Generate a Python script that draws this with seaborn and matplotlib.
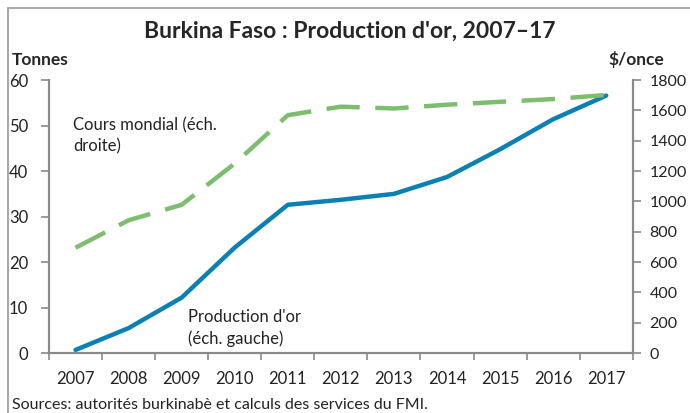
import numpy as np
import pandas as pd
import matplotlib
matplotlib.use("Agg")
import matplotlib.pyplot as plt
from matplotlib.lines import Line2D
import seaborn as sns

years = ["2007", "2008", "2009", "2010", "2011", "2012", "2013", "2014", "2015", "2016", "2017"]
#Gold production, tonnes (left scale)
production = [0.7, 5.5, 12.2, 23.2, 32.6, 33.7, 35.0, 38.7, 44.8, 51.4, 56.6]
#World gold price, $/ounce (right scale)
gold_price = [695, 876, 978, 1250, 1569, 1625, 1613, 1638, 1657, 1675, 1702]

df = pd.DataFrame({"Year": years, "Production": production, "Price": gold_price})
df["pos"] = np.arange(len(years))

sns.set_style("white")
plt.rcParams["font.family"] = ["Lato", "DejaVu Sans"]

blue = "#0A80B4"
green = "#7DBD6E"
spine_gray = "#8A8A8A"

fig = plt.figure(figsize=(6.9, 4.13), dpi=100)
ax = fig.add_axes([0.071, 0.145, 0.846, 0.661])
ax2 = ax.twinx()

sns.lineplot(data=df, x="pos", y="Production", ax=ax, color=blue, linewidth=3.2)
sns.lineplot(data=df, x="pos", y="Price", ax=ax2, color=green, linewidth=3.2)
ax2.lines[0].set_dashes((7.5, 3.5))

ax.set_xlim(-0.5, len(years) - 0.5)
ax.set_ylim(0, 60)
ax2.set_ylim(0, 1800)
ax.set_yticks(range(0, 61, 10))
ax2.set_yticks(range(0, 1801, 200))

#Ticks at category boundaries, labels centred on categories
ax.set_xticks(np.arange(-0.5, len(years), 1.0))
ax.set_xticklabels([])
ax.set_xticks(np.arange(len(years)), minor=True)
ax.set_xticklabels(years, minor=True)
ax.tick_params(axis="x", which="major", direction="out", length=5, width=1.2, color=spine_gray, bottom=True)
ax.tick_params(axis="x", which="minor", length=0, pad=13, labelsize=12, labelcolor="#222222")
ax.tick_params(axis="y", direction="out", length=6, width=1.2, color=spine_gray, left=True, pad=9, labelsize=12, labelcolor="#222222")
ax2.tick_params(axis="y", direction="out", length=6, width=1.2, color=spine_gray, right=True, pad=6, labelsize=11.5, labelcolor="#222222")

ax.set_xlabel("")
ax.set_ylabel("")
ax2.set_ylabel("")

for a in (ax, ax2):
    a.spines["top"].set_visible(False)
    for s in ("left", "right", "bottom"):
        a.spines[s].set_color(spine_gray)
        a.spines[s].set_linewidth(1.5)
    a.grid(False)

ax.text(-0.05, 47.8, "Cours mondial (éch.\ndroite)", fontsize=12, color="#222222",
        ha="left", va="center", linespacing=1.35)
ax.text(2.12, 5.5, "Production d'or\n(éch. gauche)", fontsize=12, color="#222222",
        ha="left", va="center", linespacing=1.35)

fig.text(0.507, 0.925, "Burkina Faso : Production d'or, 2007\u201317", fontsize=16.5,
         fontweight="bold", ha="center", va="center")
fig.text(0.017, 0.855, "Tonnes", fontsize=12.5, fontweight="bold", ha="left", va="center")
fig.text(0.963, 0.855, "$/once", fontsize=12.5, fontweight="bold", ha="right", va="center")
fig.text(0.017, 0.02, "Sources: autorités burkinabè et calculs des services du FMI.",
         fontsize=11.5, ha="left", va="center", color="#222222")

#Frame around the chart (top and left edges visible)
fig.add_artist(Line2D([0.0116, 1.0], [0.981, 0.981], color="#AAAAAA", linewidth=1.5))
fig.add_artist(Line2D([0.0116, 0.0116], [0.0, 0.981], color="#AAAAAA", linewidth=1.5))

fig.savefig("out.png", dpi=100)
